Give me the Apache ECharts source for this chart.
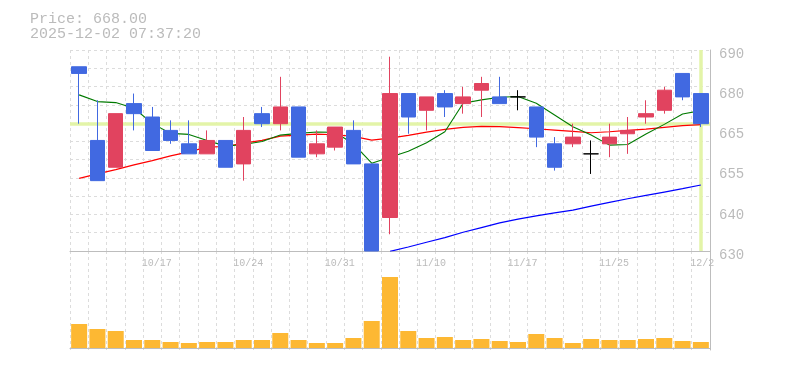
<!DOCTYPE html>
<html>
<head>
<meta charset="utf-8">
<script src="https://cdn.jsdelivr.net/npm/echarts@6/dist/echarts.min.js"></script>
<style>
html,body{margin:0;padding:0;background:#fff;}
#chart{width:785px;height:370px;}
</style>
</head>
<body>
<div id="chart"></div>
<script>
// ---- data ----
const dates = ['10/10','10/14','10/15','10/16','10/17','10/20','10/21','10/22','10/23','10/24',
  '10/27','10/28','10/29','10/30','10/31','11/4','11/5','11/6','11/7','11/10',
  '11/11','11/12','11/13','11/14','11/17','11/18','11/19','11/20','11/21','11/25',
  '11/26','11/27','11/28','12/1','12/2'];
const openP  = [685,663,655,674,670,666,662,659,663,656,671,668,673,659,661,666,656,640,677,672,677,674,678,676,676,673,662,662,659,662,665,670,672,683,677];
const closeP = [683,651,671,671,660,663,659,663,655,666,668,673,658,662,667,656,630,677,670,676,673,676,680,674,676,664,655,664,659,664,666,671,678,676,668];
const lowP   = [668,651,655,666,660,662,659,659,655,651,667,666,658,658,660,656,630,635,665,666,670,671,670,674,672,661,654,661,653,658,659,668,671,675,667];
const highP  = [685,675,671,677,673,669,669,666,663,670,673,682,673,666,667,669,656,688,677,676,678,679,682,682,678,673,664,668,663,668,670,675,679,683,677];
const volume = [240,190,170,80,80,60,50,60,60,80,80,150,80,50,50,100,270,710,170,100,110,80,90,70,60,140,100,50,90,80,80,90,100,70,60];
const maShort = [676.6,674.6,674.3,672.6,668.1,665.1,664.8,663.0,661.3,661.8,662.7,664.6,665.1,665.5,665.4,662.0,656.2,658.0,659.8,662.3,665.6,674.1,675.1,675.9,676.1,674.1,670.6,667.1,664.6,661.6,661.8,664.9,667.8,670.9,671.9];
const maMid = [651.7,653.0,654.3,655.7,657.0,658.4,659.6,661.0,661.2,662.2,663.0,664.3,664.6,664.9,664.7,664.2,663.1,663.7,664.5,665.5,666.3,666.9,667.2,667.1,666.8,666.5,666.1,665.7,665.3,665.6,666.0,666.4,666.9,667.4,667.7];
const maLong = [null,null,null,null,null,null,null,null,null,null,null,null,null,null,null,null,null,629.9,631.2,632.6,634.0,635.6,637.0,638.4,639.5,640.5,641.4,642.2,643.4,644.5,645.6,646.6,647.6,648.6,649.7];
const yTickLabels = ['630','640','655','665','680','690'];
const xTickDates = ['10/17','10/24','10/31','11/10','11/17','11/25','12/2'];
const lastPrice = 668.00;
const stamp = '2025-12-02 07:37:20';

const gridColor = '#dcdcdc';
const axisColor = '#bdbdbd';
const textColor = '#bbbbbb';
const mono = '"Liberation Mono", "DejaVu Sans Mono", monospace';

const chart = echarts.init(document.getElementById('chart'), null, {renderer: 'canvas'});
const ohlc = dates.map((d, i) => [openP[i], closeP[i], lowP[i], highP[i]]);

chart.setOption({
  animation: false,
  backgroundColor: '#fff',
  title: {
    text: 'Price: ' + lastPrice.toFixed(2) + '\n' + stamp,
    left: 25, top: 7,
    textStyle: {fontFamily: mono, fontSize: 15, fontWeight: 'normal', color: textColor, lineHeight: 15}
  },
  grid: [
    {left: 70, right: 75, top: 50, height: 201, outerBoundsMode: 'none'},
    {left: 70, right: 75, top: 251, height: 99, outerBoundsMode: 'none'}
  ],
  xAxis: [
    {
      type: 'category', gridIndex: 0, data: dates, boundaryGap: true,
      axisLine: {show: true, lineStyle: {color: axisColor, width: 1}},
      axisTick: {show: false},
      axisLabel: {
        interval: (i, v) => xTickDates.indexOf(v) >= 0,
        formatter: v => v.padEnd(5, ' '),
        color: textColor, fontFamily: mono, fontSize: 10, margin: 7,
        padding: [0, 0, 0, 9]
      },
      splitLine: {show: true, interval: 0, lineStyle: {color: gridColor, type: [3, 3], width: 1}}
    },
    {
      type: 'category', gridIndex: 1, data: dates, boundaryGap: true,
      axisLine: {show: true, lineStyle: {color: axisColor, width: 1}},
      axisTick: {show: false}, axisLabel: {show: false},
      splitLine: {show: true, interval: 0, lineStyle: {color: gridColor, type: [3, 3], width: 1}}
    }
  ],
  yAxis: [
    {
      type: 'value', gridIndex: 0, position: 'right', min: 630, max: 690, interval: 6,
      axisLine: {show: true, lineStyle: {color: axisColor, width: 1}},
      axisTick: {show: false},
      splitLine: {show: false},
      axisLabel: {
        formatter: v => {
          const k = Math.round(v - 630);
          return k % 12 === 0 ? yTickLabels[k / 12] : '';
        },
        color: textColor, fontFamily: mono, fontSize: 14, margin: 9,
        verticalAlign: 'top', lineHeight: 8
      }
    },
    {
      type: 'value', gridIndex: 0, position: 'left', min: 0, max: 11, interval: 1,
      axisLine: {show: false}, axisTick: {show: false}, axisLabel: {show: false},
      splitLine: {show: true, lineStyle: {color: gridColor, type: [3, 3], width: 1}}
    },
    {
      type: 'value', gridIndex: 1, position: 'right', min: -20, max: 970,
      axisLine: {show: true, lineStyle: {color: axisColor, width: 1}},
      axisTick: {show: false}, axisLabel: {show: false}, splitLine: {show: false}
    }
  ],
  series: [
    {
      name: 'last', type: 'line', xAxisIndex: 0, yAxisIndex: 0, data: closeP,
      symbol: 'none', lineStyle: {opacity: 0}, silent: true, z: 1,
      markLine: {
        z: 1, silent: true, symbol: ['none', 'none'], label: {show: false},
        lineStyle: {color: '#e3f4a8', width: 3.5, type: 'solid'},
        data: [{yAxis: lastPrice}, {xAxis: dates[dates.length - 1]}]
      }
    },
    {name: 'MA long', type: 'line', xAxisIndex: 0, yAxisIndex: 0, data: maLong, symbol: 'none',
      lineStyle: {color: '#0000ff', width: 1.2}, z: 2},
    {name: 'MA mid', type: 'line', xAxisIndex: 0, yAxisIndex: 0, data: maMid, symbol: 'none',
      lineStyle: {color: '#ff0000', width: 1.2}, z: 2},
    {name: 'MA short', type: 'line', xAxisIndex: 0, yAxisIndex: 0, data: maShort, symbol: 'none',
      lineStyle: {color: '#007a00', width: 1.1}, z: 2},
    {
      name: 'Price', type: 'candlestick', xAxisIndex: 0, yAxisIndex: 0, data: ohlc,
      barWidth: 15, z: 3,
      itemStyle: {
        color: '#e1435f', borderColor: '#e1435f',
        color0: '#4169e1', borderColor0: '#4169e1',
        borderColorDoji: '#000000', borderWidth: 1
      }
    },
    {
      name: 'Volume', type: 'bar', xAxisIndex: 1, yAxisIndex: 2, data: volume,
      barWidth: 16, itemStyle: {color: '#fdb833'}
    }
  ]
});
</script>
</body>
</html>
